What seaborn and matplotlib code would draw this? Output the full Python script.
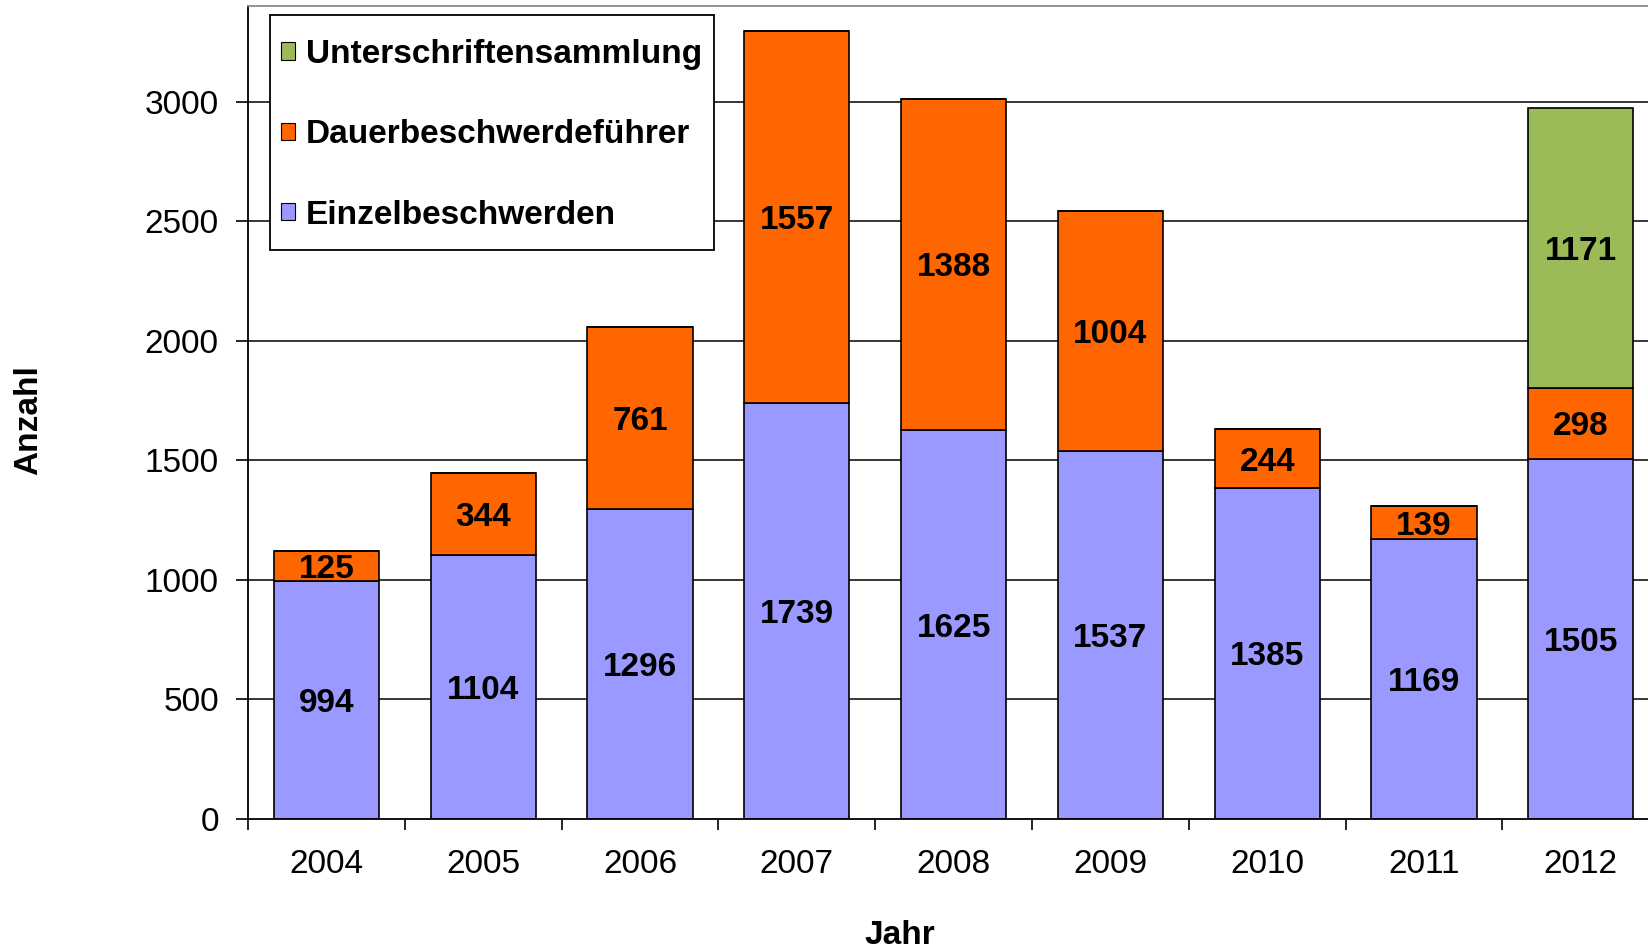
import matplotlib
matplotlib.use("Agg")
import matplotlib.pyplot as plt
from matplotlib.patches import Patch, Rectangle
import numpy as np
import seaborn as sns

# Data: complaints per year, split by type
years = ["2004", "2005", "2006", "2007", "2008", "2009", "2010", "2011", "2012"]
einzel = [994, 1104, 1296, 1739, 1625, 1537, 1385, 1169, 1505]
dauer = [125, 344, 761, 1557, 1388, 1004, 244, 139, 298]
unterschriften = [0, 0, 0, 0, 0, 0, 0, 0, 1171]

series_names = ["Einzelbeschwerden", "Dauerbeschwerdeführer", "Unterschriftensammlung"]
series_colors = ["#9999FF", "#FF6600", "#9BBB59"]
y_ticks = [0, 500, 1000, 1500, 2000, 2500, 3000]

sns.set_theme(style="white")
plt.rcParams["font.family"] = ["Liberation Sans", "DejaVu Sans"]
plt.rcParams.update({"text.color": "black", "xtick.color": "black",
                     "ytick.color": "black", "axes.labelcolor": "black"})

FS = 24

fig = plt.figure(figsize=(16.48, 9.5), dpi=100)
ax = fig.add_axes([0.1505, 0.1382, 0.8563, 0.8554])

# horizontal grid behind the bars
for yv in y_ticks[1:]:
    ax.axhline(yv, color="black", lw=1.1, zorder=0)

series = [einzel, dauer, unterschriften]
bottom = np.zeros(len(years))
for vals, color in zip(series, series_colors):
    sns.barplot(x=years, y=vals, bottom=bottom.copy(), color=color, width=0.67,
                edgecolor="black", linewidth=1.2, saturation=1, ax=ax, zorder=2)
    # value label centred in each segment
    for i, v in enumerate(vals):
        if v > 0:
            ax.text(i, bottom[i] + v / 2, str(v), ha="center", va="center_baseline",
                    fontsize=FS, fontweight="bold", color="black", zorder=4)
    bottom = bottom + np.array(vals)

ax.set_xlim(-0.5, len(years) - 0.5)
ax.set_ylim(0, 3400)
ax.set_yticks(y_ticks)
ax.set_yticklabels([str(t) for t in y_ticks], fontsize=FS)
ax.set_xticks(range(len(years)))
ax.set_xticklabels(years, fontsize=FS)
ax.set_xticks(np.arange(-0.5, len(years), 1.0), minor=True)
ax.tick_params(axis="x", which="major", length=0, pad=22, labelsize=FS)
ax.tick_params(axis="x", which="minor", length=8, width=1.2, direction="out",
               color="black", bottom=True)
ax.tick_params(axis="y", which="major", length=9, width=1.2, direction="out",
               color="black", pad=12, left=True, labelsize=FS)
ax.set_xlabel("")
ax.set_ylabel("")

for side in ["left", "bottom"]:
    ax.spines[side].set_color("black")
    ax.spines[side].set_linewidth(1.3)
ax.spines["top"].set_color("#8a8a8a")
ax.spines["top"].set_linewidth(1.3)
ax.spines["right"].set_color("#8a8a8a")

fig.text(29 / 1648, 1 - 420 / 950, "Anzahl", rotation=90, ha="center", va="center",
         fontsize=FS, fontweight="bold")
fig.text(900 / 1648, 1 - 936 / 950, "Jahr", ha="center", va="center",
         fontsize=FS, fontweight="bold")

# legend: stacking order reversed, boxed frame
handles = [Patch(facecolor=c, edgecolor="black", linewidth=0.8)
           for c in series_colors[::-1]]
leg = fig.legend(handles, series_names[::-1], loc="upper left",
                 bbox_to_anchor=(281 / 1648, 1 - 39 / 950),
                 bbox_transform=fig.transFigure, frameon=False, borderpad=0,
                 borderaxespad=0, handlelength=0.42, handleheight=0.42,
                 handletextpad=0.33, labelspacing=1.48,
                 prop={"size": FS, "weight": "bold"})
box = Rectangle((270 / 1648, 1 - 250 / 950), (714 - 270) / 1648, (250 - 15) / 950,
                transform=fig.transFigure, facecolor="white", edgecolor="black",
                linewidth=1.3, zorder=5)
fig.patches.append(box)
leg.set_zorder(6)

fig.savefig("out.png", dpi=100, facecolor="white")
